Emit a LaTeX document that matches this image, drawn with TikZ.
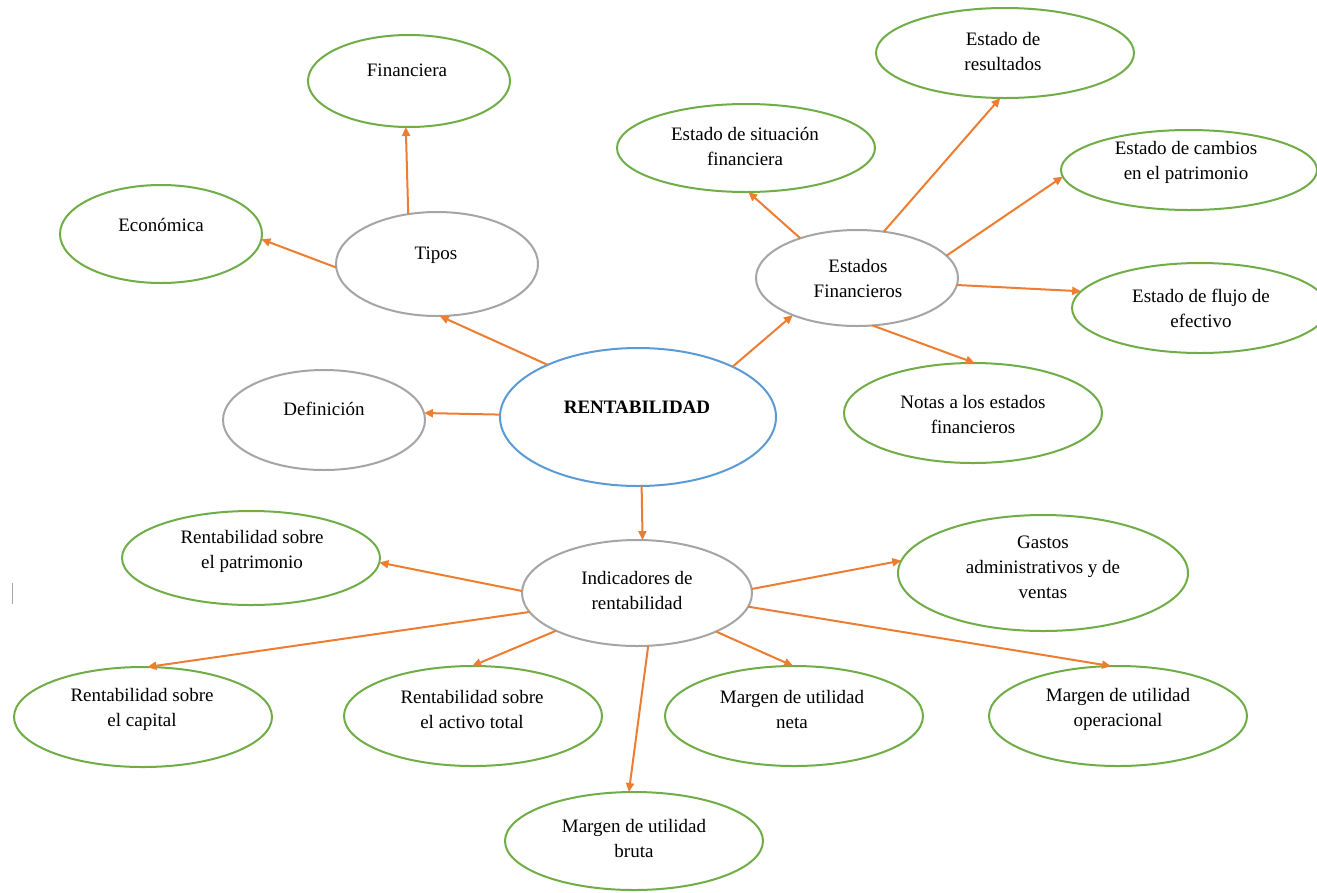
\documentclass[tikz,border=0pt]{standalone}
\usepackage{fontspec}
\setmainfont{Liberation Serif}
\usetikzlibrary{shapes.geometric,arrows.meta}
\definecolor{ogreen}{RGB}{112,173,71}
\definecolor{ogray}{RGB}{165,165,165}
\definecolor{oblue}{RGB}{91,155,213}
\definecolor{oorange}{RGB}{237,125,49}
\tikzset{
  ell/.style={ellipse, draw, line width=2pt, inner sep=0pt, outer sep=0pt},
  gE/.style={ell, draw=ogreen},
  yE/.style={ell, draw=ogray},
  bE/.style={ell, draw=oblue},
  txt/.style={align=center, inner sep=0pt, font=\fontsize{19}{25}\selectfont},
  arr/.style={draw=oorange, line width=2pt, -{Triangle[length=9pt,width=8pt]}, color=oorange}
}
\newcommand{\elp}[6]{\node[#1, minimum width=#4pt, minimum height=#5pt] (#6) at (#2,#3) {};}
\begin{document}
\begin{tikzpicture}[x=1pt,y=-1pt]
\useasboundingbox (0,0) rectangle (1317,892);
\clip (0,0) rectangle (1317,892);
\fill[white] (0,0) rectangle (1317,892);
% ellipses
\elp{gE}{409}{81}{202}{92}{fin}
\elp{gE}{161}{234}{202}{98}{eco}
\elp{yE}{437}{264}{202}{104}{tip}
\elp{yE}{324}{420}{202}{100}{def}
\elp{bE}{638}{417}{276}{138}{rent}
\elp{gE}{746}{148}{258}{88}{sit}
\elp{gE}{1005}{53}{258}{90}{res}
\elp{gE}{1189}{170}{256}{80}{cam}
\elp{yE}{857}{278}{202}{96}{est}
\elp{gE}{1200}{308}{256}{90}{flu}
\elp{gE}{973}{413}{258}{100}{not}
\elp{yE}{637}{593}{230}{106}{ind}
\elp{gE}{251}{558}{258}{94}{pat}
\elp{gE}{1043}{573}{290}{116}{gas}
\elp{gE}{143}{717}{258}{100}{cap}
\elp{gE}{473}{716}{258}{100}{act}
\elp{gE}{794}{716}{258}{100}{net}
\elp{gE}{1118}{716}{258}{100}{ope}
\elp{gE}{634}{841}{258}{98}{bru}
% texts
\node[txt] (fin-t) at (407,70) {Financiera};
\node[txt] (eco-t) at (161,225) {Económica};
\node[txt] (tip-t) at (436,255) {Tipos};
\node[txt] (def-t) at (324,409) {Definición};
\node[txt, font=\fontsize{19}{25}\selectfont\bfseries] (rent-t) at (637,407) {RENTABILIDAD};
\node[txt] (sit-t) at (745,146) {Estado de situación\\financiera};
\node[txt] (res-t) at (1003,51) {Estado de\\resultados};
\node[txt] (cam-t) at (1186,162) {Estado de cambios\\en el patrimonio};
\node[txt] (est-t) at (858,278) {Estados\\Financieros};
\node[txt] (flu-t) at (1201,308) {Estado de flujo de\\efectivo};
\node[txt] (not-t) at (973,414) {Notas a los estados\\financieros};
\node[txt] (ind-t) at (637,590) {Indicadores de\\rentabilidad};
\node[txt] (pat-t) at (252,551) {Rentabilidad sobre\\el patrimonio};
\node[txt] (gas-t) at (1043,567) {Gastos\\administrativos y de\\ventas};
\node[txt] (cap-t) at (142,709) {Rentabilidad sobre\\el capital};
\node[txt] (act-t) at (472,709) {Rentabilidad sobre\\el activo total};
\node[txt] (net-t) at (792,709) {Margen de utilidad\\neta};
\node[txt] (ope-t) at (1118,709) {Margen de utilidad\\operacional};
\node[txt] (bru-t) at (634,838) {Margen de utilidad\\bruta};
% connectors
\draw[arr] (rent.150) -- (tip.273);
\draw[arr] (rent.179) -- (def.4);
\draw[arr] (rent.28.6) -- (est.210.3);
\draw[arr] (rent.273) -- (ind.84.8);
\draw[arr] (tip.120.5) -- (fin.266.3);
\draw[arr] (tip.182.3) -- (eco.357.8);
\draw[arr] (est.145.8) -- (sit.273.6);
\draw[arr] (est.60.7) -- (res.264.5);
\draw[arr] (est.14.6) -- (cam.183.3);
\draw[arr] (est.356) -- (flu.172.5);
\draw[arr] (est.288.1) -- (not.88.6);
\draw[arr] (ind.179.5) -- (pat.358.7);
\draw[arr] (ind.190) -- (cap.85.6);
\draw[arr] (ind.205.4) -- (act.91.1);
\draw[arr] (ind.282.8) -- (bru.96);
\draw[arr] (ind.334.8) -- (net.91.2);
\draw[arr] (ind.353) -- (ope.98);
\draw[arr] (ind.2.4) -- (gas.175.2);
% stray cursor mark
\draw[ogray, line width=1pt] (12,583) -- (12,604);
\end{tikzpicture}
\end{document}
